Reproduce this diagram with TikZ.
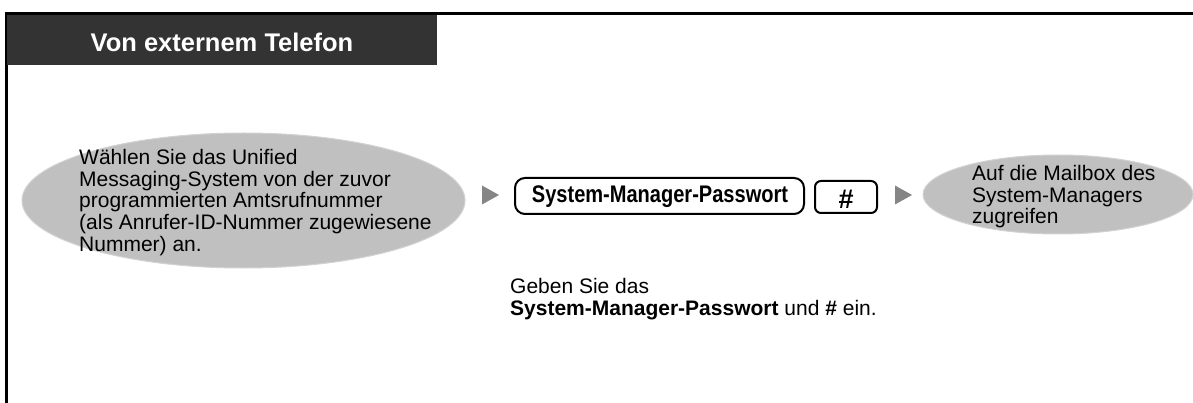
\documentclass[tikz,border=0pt]{standalone}
\usepackage{fontspec}
\setmainfont{Liberation Sans}
\usepackage{graphicx}
\usetikzlibrary{shapes.geometric}
\definecolor{hdr}{HTML}{333333}
\definecolor{ellfill}{HTML}{C0C0C0}
\definecolor{ellrim}{HTML}{D2D2D2}
\definecolor{tri}{HTML}{858585}
\tikzset{
  ell/.style={ellipse, fill=ellfill, draw=ellrim, line width=1pt, inner sep=0pt},
  body/.style={font=\fontsize{21}{21.6}\selectfont, align=left, inner sep=0pt, text=black},
  keybox/.style={draw=black, line width=2pt, fill=white, inner sep=0pt},
  tip/.style={fill=tri, draw=none},
}
\begin{document}
\begin{tikzpicture}[x=1pt,y=-1pt]
\useasboundingbox (0,0) rectangle (1193,403);
% frame
\draw[line width=3pt] (6,403) -- (6,13.5) -- (1193,13.5);
% header
\fill[hdr] (7,15) rectangle (437,65);
\node[text=white, font=\bfseries\fontsize{25.5}{25.5}\selectfont, anchor=base] (title) at (222,52) {Von externem Telefon};
% left ellipse
\node[ell, minimum width=443pt, minimum height=135pt] (e1) at (243.5,200.5) {};
\node[body, anchor=north west] (t1) at (79,149.2) {W\"ahlen Sie das Unified\\Messaging-System von der zuvor\\programmierten Amtsrufnummer\\(als Anrufer-ID-Nummer zugewiesene\\Nummer) an.};
% arrow 1
\coordinate (a1) at (482,185.5);
\fill[tip] (a1) -- ++(0,19) -- ++(17,-9.5) -- cycle;
% password box
\draw[keybox, rounded corners=10pt] (515,178) rectangle (804,214);
\node[font=\bfseries\fontsize{24}{24}\selectfont, inner sep=0pt, anchor=base] (pw) at (660,203) {\scalebox{0.835}[1]{System-Manager-Passwort}};
% hash box
\draw[keybox, rounded corners=6pt] (815,181) rectangle (877,213);
\node[font=\bfseries\fontsize{27}{27}\selectfont, inner sep=0pt, anchor=base] (hash) at (846,208.5) {\#};
% arrow 2
\coordinate (a2) at (895,185.5);
\fill[tip] (a2) -- ++(0,19) -- ++(17,-9.5) -- cycle;
% right ellipse
\node[ell, minimum width=270pt, minimum height=79pt] (e2) at (1058,194.5) {};
\node[body, anchor=north west] (t2) at (972,165) {Auf die Mailbox des\\System-Managers\\zugreifen};
% note
\node[body, anchor=north west] (note) at (510,278) {Geben Sie das\\\textbf{System-Manager-Passwort} und \textbf{\#} ein.};
\end{tikzpicture}
\end{document}
